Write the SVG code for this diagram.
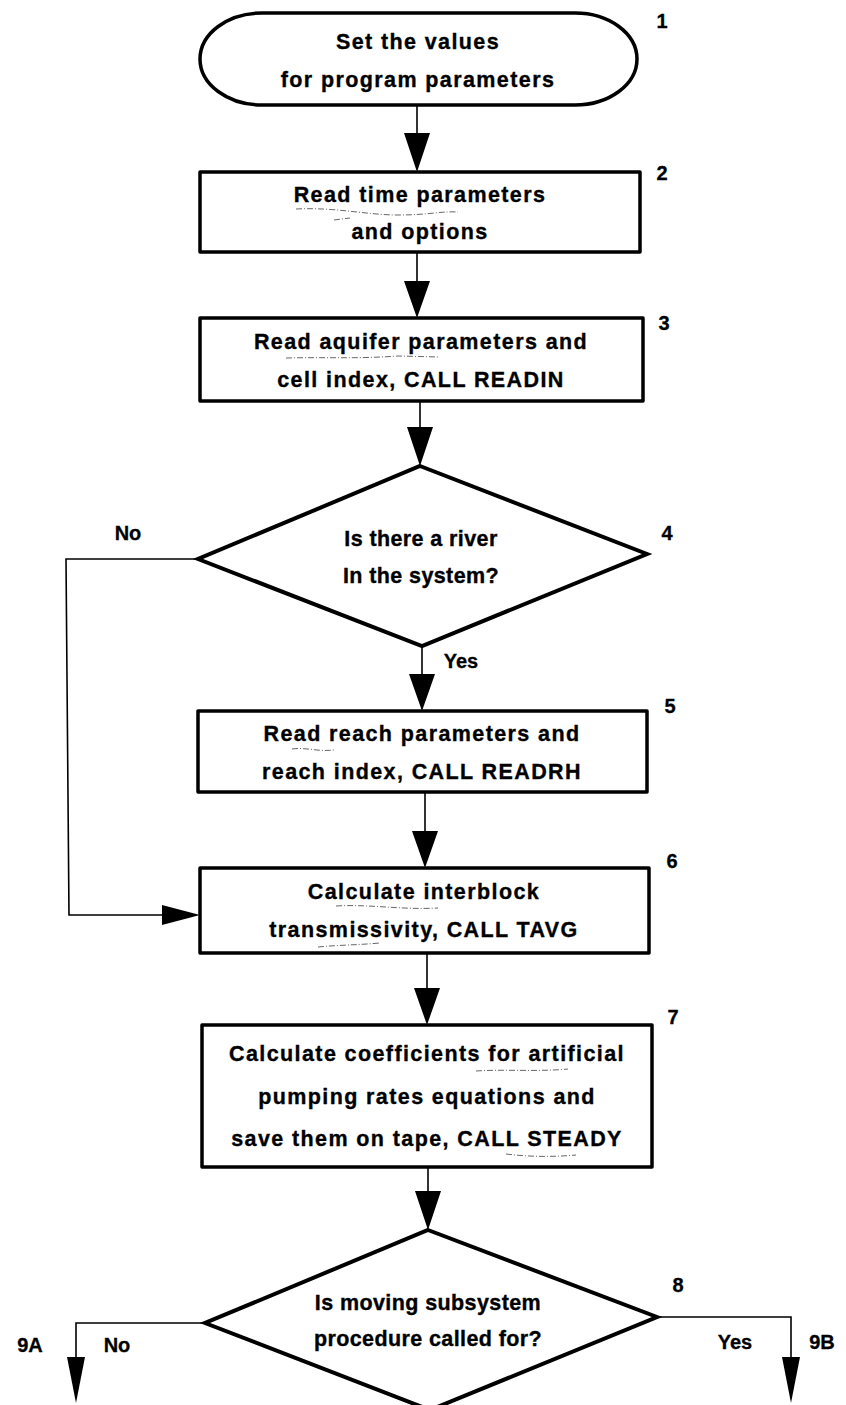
<svg xmlns="http://www.w3.org/2000/svg" width="846" height="1405" viewBox="0 0 846 1405">
  <style>
    .shape { fill: #fff; stroke: #000; stroke-width: 3.5; stroke-linejoin: round; }
    .diamond { fill: #fff; stroke: #000; stroke-width: 4; stroke-linejoin: miter; }
    .label { font-family: "Liberation Sans", Arial, sans-serif; font-weight: bold; font-size: 21.5px; letter-spacing: 1.4px; fill: #000; stroke: #000; stroke-width: 0.35; text-anchor: middle; }
    .label.tight { letter-spacing: 0.4px; }
    .num { font-family: "Liberation Sans", Arial, sans-serif; font-weight: bold; font-size: 20px; fill: #000; stroke: #000; stroke-width: 0.3; text-anchor: middle; }
    .wire { fill: none; stroke: #000; stroke-width: 1.6; }
    .head { fill: #000; stroke: none; }
    .pencil { fill: none; stroke: #555; stroke-width: 0.9; stroke-dasharray: 6 2 1 2; }
  </style>
  <rect width="846" height="1405" fill="#fff"/>

  <!-- connectors -->
  <g id="connectors">
    <line class="wire" x1="417" y1="105" x2="417" y2="140"/>
    <polygon class="head" points="404,133 430,133 417,172"/>
    <line class="wire" x1="417" y1="252" x2="417" y2="290"/>
    <polygon class="head" points="404,281 430,281 417,318"/>
    <line class="wire" x1="420" y1="401" x2="420" y2="435"/>
    <polygon class="head" points="407,427 433,427 420,466"/>
    <line class="wire" x1="422" y1="646" x2="422" y2="682"/>
    <polygon class="head" points="409,674 435,674 422,711"/>
    <line class="wire" x1="425" y1="792" x2="425" y2="840"/>
    <polygon class="head" points="412,831 438,831 425,868"/>
    <line class="wire" x1="427" y1="953" x2="427" y2="997"/>
    <polygon class="head" points="414,988 440,988 427,1025"/>
    <line class="wire" x1="428" y1="1167" x2="428" y2="1200"/>
    <polygon class="head" points="415,1191 441,1191 428,1230"/>
    <!-- "No" branch of node 4 back into node 6 -->
    <polyline class="wire" points="198,559 66,559 69,915 170,915"/>
    <polygon class="head" points="162,905 162,925 200,915"/>
    <!-- exits of node 8 -->
    <polyline class="wire" points="205,1323 76,1323 76,1365"/>
    <polygon class="head" points="67,1357 85,1357 76,1403"/>
    <polyline class="wire" points="657,1317 791,1317 791,1365"/>
    <polygon class="head" points="782,1357 800,1357 791,1403"/>
    <text class="num" x="128" y="540">No</text>
    <text class="num" x="461" y="668">Yes</text>
    <text class="num" x="30" y="1352">9A</text>
    <text class="num" x="117" y="1352">No</text>
    <text class="num" x="735" y="1349">Yes</text>
    <text class="num" x="822" y="1349">9B</text>
  </g>

  <g id="node1">
    <rect class="shape" x="200" y="13" width="437" height="92" rx="62" ry="46"/>
    <text class="label" x="418" y="49">Set the values</text>
    <text class="label" x="418" y="87">for program parameters</text>
    <text class="num" x="662" y="28">1</text>
  </g>

  <g id="node2">
    <rect class="shape" x="200" y="172" width="440" height="80"/>
    <text class="label" x="420" y="202">Read time parameters</text>
    <text class="label" x="420" y="239">and options</text>
    <text class="num" x="662" y="180">2</text>
  </g>

  <g id="node3">
    <rect class="shape" x="200" y="318" width="443" height="83"/>
    <text class="label" x="421" y="349">Read aquifer parameters and</text>
    <text class="label" x="421" y="387">cell index, CALL READIN</text>
    <text class="num" x="664" y="330">3</text>
  </g>

  <g id="node4">
    <polygon class="diamond" points="420,466 647,554 422,646 198,559"/>
    <text class="label tight" x="421" y="546">Is there a river</text>
    <text class="label tight" x="421" y="583">In the system?</text>
    <text class="num" x="667" y="540">4</text>
  </g>

  <g id="node5">
    <rect class="shape" x="198" y="711" width="449" height="81"/>
    <text class="label" x="422" y="741">Read reach parameters and</text>
    <text class="label" x="422" y="779">reach index, CALL READRH</text>
    <text class="num" x="670" y="713">5</text>
  </g>

  <g id="node6">
    <rect class="shape" x="200" y="868" width="449" height="85"/>
    <text class="label" x="424" y="899">Calculate interblock</text>
    <text class="label" x="424" y="937">transmissivity, CALL TAVG</text>
    <text class="num" x="672" y="868">6</text>
  </g>

  <g id="node7">
    <rect class="shape" x="202" y="1025" width="450" height="142"/>
    <text class="label" x="427" y="1061">Calculate coefficients for artificial</text>
    <text class="label" x="427" y="1104">pumping rates equations and</text>
    <text class="label" x="427" y="1146">save them on tape, CALL STEADY</text>
    <text class="num" x="673" y="1024">7</text>
  </g>

  <g id="node8">
    <polygon class="diamond" points="428,1230 657,1317 430,1410 205,1323"/>
    <text class="label tight" x="428" y="1310">Is moving subsystem</text>
    <text class="label tight" x="428" y="1346">procedure called for?</text>
    <text class="num" x="678" y="1292">8</text>
  </g>

  <!-- hand-drawn pencil underlines -->
  <g id="pencil-marks">
    <path class="pencil" d="M296,209 C336,207 366,215 398,215 S440,211 458,212"/>
    <path class="pencil" d="M334,220 L350,218"/>
    <path class="pencil" d="M286,358 C326,357 356,359 398,356 L440,357"/>
    <path class="pencil" d="M292,749 C306,747 318,752 334,750"/>
    <path class="pencil" d="M336,906 C370,904 400,910 438,908"/>
    <path class="pencil" d="M318,947 C338,945 358,945 380,943"/>
    <path class="pencil" d="M476,1071 C506,1069 536,1072 568,1069"/>
    <path class="pencil" d="M506,1154 C530,1157 554,1157 576,1155"/>
  </g>
</svg>
